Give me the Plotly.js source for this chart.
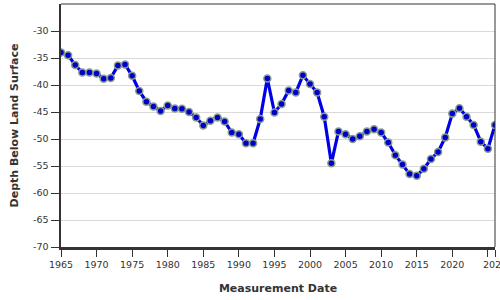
<!DOCTYPE html>
<html>
<head>
<meta charset="utf-8">
<script src="https://cdn.plot.ly/plotly-3.0.1.min.js"></script>
<style>html,body{margin:0;padding:0;background:#fff;}#chart{width:500px;height:300px;}</style>
</head>
<body>
<div id="chart"></div>
<script>
const years = [1965,1966,1967,1968,1969,1970,1971,1972,1973,1974,1975,1976,1977,1978,1979,1980,1981,1982,1983,1984,1985,1986,1987,1988,1989,1990,1991,1992,1993,1994,1995,1996,1997,1998,1999,2000,2001,2002,2003,2004,2005,2006,2007,2008,2009,2010,2011,2012,2013,2014,2015,2016,2017,2018,2019,2020,2021,2022,2023,2024,2025,2026];
const depth = [-34.0,-34.5,-36.3,-37.7,-37.7,-37.85,-38.85,-38.7,-36.4,-36.2,-38.3,-41.1,-43.1,-44.0,-44.8,-43.8,-44.35,-44.4,-45.0,-46.0,-47.5,-46.6,-46.0,-46.75,-48.8,-49.1,-50.8,-50.8,-46.3,-38.8,-45.1,-43.5,-41.0,-41.4,-38.2,-39.8,-41.4,-45.9,-54.5,-48.6,-49.1,-50.0,-49.5,-48.6,-48.2,-48.8,-50.65,-53.0,-54.7,-56.5,-56.8,-55.5,-53.7,-52.4,-49.7,-45.3,-44.3,-45.9,-47.4,-50.5,-51.8,-47.4];
const xTickVals = [1965,1970,1975,1980,1985,1990,1995,2000,2005,2010,2015,2020,2025,2026];
const xTickText = ["1965","1970","1975","1980","1985","1990","1995","2000","2005","2010","2015","2020","","2026"];
const yTickVals = [-70,-65,-60,-55,-50,-45,-40,-35,-30];
const yTickText = ["-70","-65","-60","-55","-50","-45","-40","-35","-30"];

const trace = {
  x: years, y: depth, type: 'scatter', mode: 'lines+markers',
  line: {color: '#0000e6', width: 3.2},
  marker: {color: '#0000cc', size: 7, line: {color: '#8a9c8a', width: 1.5}},
  hoverinfo: 'x+y'
};
const fontFam = '"DejaVu Sans", Verdana, sans-serif';
const layout = {
  width: 500, height: 300,
  margin: {l: 61, r: 5, t: 4, b: 53},
  paper_bgcolor: '#fff', plot_bgcolor: '#fff',
  showlegend: false,
  font: {family: fontFam, color: '#333', size: 9},
  xaxis: {
    range: [1965, 2026], tickvals: xTickVals, ticktext: xTickText,
    showgrid: false, zeroline: false,
    showline: true, linecolor: '#333', linewidth: 2.5,
    ticks: 'outside', ticklen: 7, tickcolor: '#333', tickwidth: 1,
    ticklabeloverflow: 'allow',
    tickfont: {size: 9.5, color: '#333', family: fontFam},
    title: {text: 'Measurement Date', font: {size: 11, color: '#333', family: fontFam, weight: 'bold'}, standoff: 16}
  },
  yaxis: {
    range: [-70, -25], tickvals: yTickVals, ticktext: yTickText,
    showgrid: true, gridcolor: '#d9d9d9', gridwidth: 1, zeroline: false,
    showline: true, linecolor: '#333', linewidth: 2.5,
    ticks: 'outside', ticklen: 8, tickcolor: '#333', tickwidth: 1,
    tickfont: {size: 9.5, color: '#333', family: fontFam},
    title: {text: 'Depth Below Land Surface', font: {size: 11, color: '#333', family: fontFam, weight: 'bold'}, standoff: 12}
  },
  shapes: [
    {type: 'line', xref: 'paper', yref: 'paper', x0: 0, x1: 1, y0: 1, y1: 1, line: {color: '#333', width: 1}},
    {type: 'line', xref: 'paper', yref: 'paper', x0: 1, x1: 1, y0: 0, y1: 1, line: {color: '#333', width: 1}}
  ]
};
Plotly.newPlot('chart', [trace], layout, {displayModeBar: false, staticPlot: true});
</script>
</body>
</html>
